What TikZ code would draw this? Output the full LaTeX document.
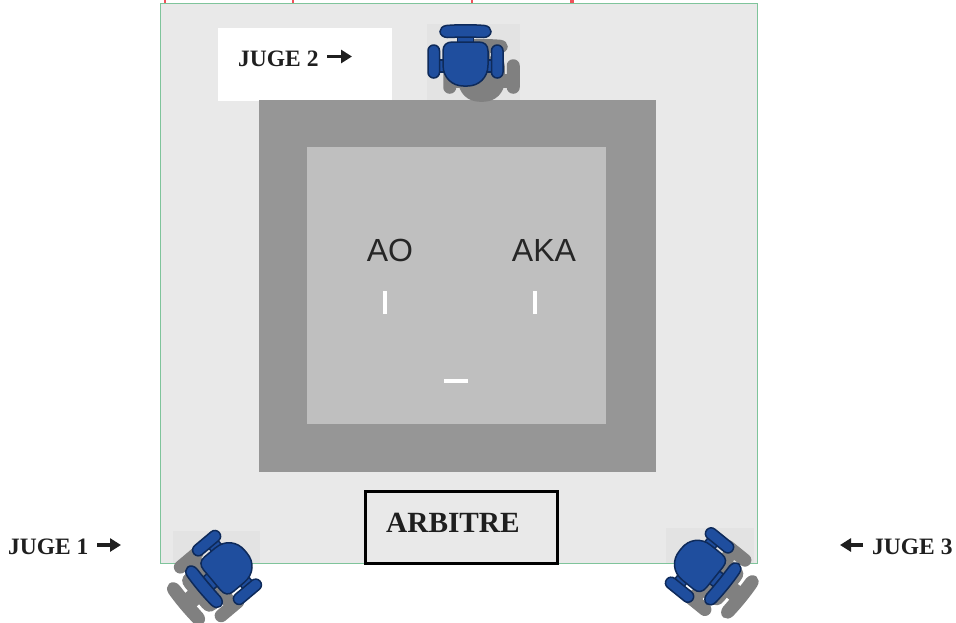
\documentclass[tikz,border=0pt]{standalone}
\usepackage{fontspec}
\setmainfont{Liberation Serif}
\newfontfamily\lsans{Liberation Sans}
\usetikzlibrary{arrows.meta}
\definecolor{floorc}{HTML}{E9E9E9}
\definecolor{palec}{HTML}{E3E3E3}
\definecolor{darkc}{HTML}{969696}
\definecolor{innerc}{HTML}{BFBFBF}
\definecolor{framec}{HTML}{7FC49B}
\definecolor{chairc}{HTML}{1F4E9E}
\definecolor{chairl}{HTML}{0E2A5A}
\definecolor{shadowc}{HTML}{808080}
\definecolor{speckc}{HTML}{F0505A}
\tikzset{
  x=1pt,y=-1pt,
  judge/.style={font=\bfseries\fontsize{23.5}{25}\selectfont,text=black!88,inner sep=0pt,anchor=west},
  mat/.style={font=\lsans\fontsize{32}{34}\selectfont,text=black!85,inner sep=0pt},
  tick/.style={fill=white,draw=none},
  arrowg/.style={draw=black!88,line width=3.4pt,-{Triangle[length=11pt,width=13pt]}},
  chairpart/.style={fill=chairc,draw=chairl,line width=1.5pt},
  shadowpart/.style={fill=shadowc,draw=shadowc,line width=1.5pt},
  speck/.style={fill=speckc,draw=none}
}
\newcommand{\chairparts}[1]{%
  \path[#1] (-8,-19) rectangle (8,-13);
  \path[#1] (-27,4) rectangle (-21,16);
  \path[#1] (21,4) rectangle (27,16);
  \path[#1] (-19,-30.5) .. controls (-8,-31.5) and (8,-31.5) .. (19,-30.5) .. controls (23,-30) and (25.5,-27.5) .. (25.5,-24.5) .. controls (25.5,-21) and (22,-18.5) .. (18,-18.5) .. controls (8,-19) and (-8,-19) .. (-18,-18.5) .. controls (-22,-18.5) and (-25.5,-21) .. (-25.5,-24.5) .. controls (-25.5,-27.5) and (-23,-30) .. (-19,-30.5) -- cycle;
  \path[#1,rounded corners=5.7pt] (-37.5,-11) rectangle (-26,22);
  \path[#1,rounded corners=5.7pt] (26,-11) rectangle (37.5,22);
  \path[#1] (-13,-14) -- (13,-14) .. controls (19,-14) and (22.5,-11) .. (22.5,-5) -- (22.5,9) .. controls (22.5,22) and (13,30) .. (2,30) -- (-2,30) .. controls (-13,30) and (-22.5,22) .. (-22.5,9) -- (-22.5,-5) .. controls (-22.5,-11) and (-19,-14) .. (-13,-14) -- cycle;
}
\newcommand{\chairat}[5]{%
  \begin{scope}[shift={(#1+#4,#2+#5)},rotate=#3]\chairparts{shadowpart}\end{scope}
  \begin{scope}[shift={(#1,#2)},rotate=#3]\chairparts{chairpart}\end{scope}
}
\begin{document}
\begin{tikzpicture}
\useasboundingbox[fill=white] (0,0) rectangle (956,622);
% specks of the clipped top line
\fill[speck] (164,0) rectangle (166,2.5);
\fill[speck] (292,0) rectangle (294,2.5);
\fill[speck] (471,0) rectangle (473,2.5);
\fill[speck] (570,0) rectangle (574,2.5);
% floor
\fill[floorc] (160,3) rectangle (757,563);
\draw[framec,line width=1pt] (160,563) -- (160,3) -- (757,3) -- (757,563) -- cycle;
% pale squares behind the chairs
\fill[palec] (427,24) rectangle (520,100);
\fill[palec] (173,531) rectangle (260,563);
\fill[palec] (666,528) rectangle (754,563);
% label panel
\fill[white] (218,28) rectangle (392,101);
% mat
\fill[darkc] (259,100) rectangle (656,472);
\fill[innerc] (307,147) rectangle (606,424);
\node[mat] (ao) at (390,250) {AO};
\node[mat] (aka) at (544,250) {AKA};
\fill[tick] (383,291) rectangle (387,314);
\fill[tick] (533,291) rectangle (537,314);
\fill[tick] (444,379) rectangle (468,383);
% arbitre
\node[draw=black,line width=2.4pt,fill=floorc,minimum width=192pt,minimum height=72pt,inner sep=0pt] (arb) at (461.5,527.5) {};
\node[font=\bfseries\fontsize{29.3}{31}\selectfont,text=black!88,inner sep=0pt,anchor=west] (arbt) at (386,523) {ARBITRE};
% chairs
\chairat{465.5}{56}{0}{16}{15}
\chairat{222.8}{571}{130}{-18}{17}
\chairat{703.8}{568.5}{-129}{17}{13}
% judges
\node[judge] (j2) at (238,59) {JUGE 2};
\coordinate (a2s) at (327,56.5); \coordinate (a2e) at (352,56.5);
\draw[arrowg] (a2s) -- (a2e);
\node[judge] (j1) at (8,547) {JUGE 1};
\coordinate (a1s) at (97,545); \coordinate (a1e) at (121,545);
\draw[arrowg] (a1s) -- (a1e);
\node[judge] (j3) at (872,547) {JUGE 3};
\coordinate (a3s) at (863,545); \coordinate (a3e) at (840,545);
\draw[arrowg] (a3s) -- (a3e);
\end{tikzpicture}
\end{document}
